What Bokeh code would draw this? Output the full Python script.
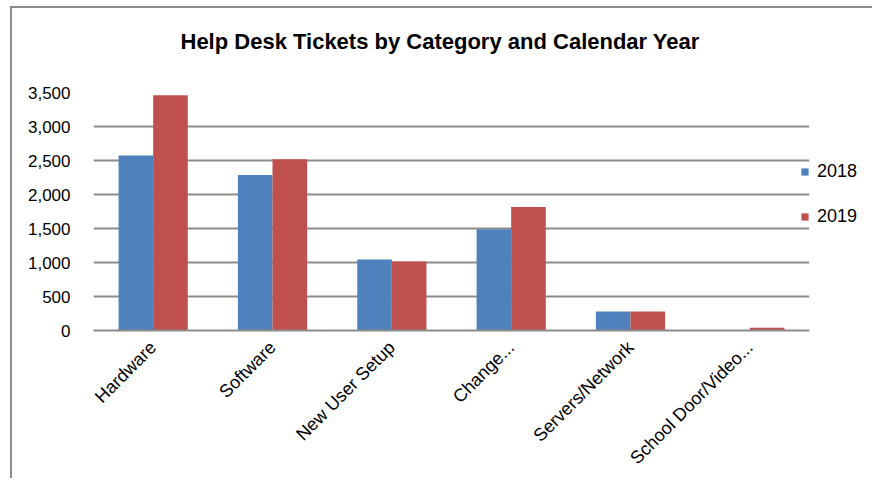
from bokeh.plotting import figure
from bokeh.models import ColumnDataSource, Range1d, NumeralTickFormatter, Legend, LegendItem, FixedTicker, Title
from bokeh.transform import dodge
from bokeh.embed import file_html
from bokeh.resources import INLINE
import math

categories = ["Hardware", "Software", "New User Setup", "Change...", "Servers/Network", "School Door/Video..."]
tickets_2018 = [2575, 2285, 1045, 1490, 280, 0]
tickets_2019 = [3460, 2520, 1015, 1815, 280, 40]
series_names = ["2018", "2019"]
y_ticks = [0, 500, 1000, 1500, 2000, 2500, 3000, 3500]
title_text = "Help Desk Tickets by Category and Calendar Year"

FONT = "Liberation Sans"
BLUE = "#4F81BD"
RED = "#C0504D"
GRID = "#8c8c8c"

source = ColumnDataSource(dict(cat=categories, y2018=tickets_2018, y2019=tickets_2019))

p = figure(x_range=categories, y_range=Range1d(0, 3500), width=857, height=470,
           frame_width=716, frame_height=238,
           output_backend="svg", toolbar_location=None, title=None)
p.min_border_left = 81
p.min_border_right = 60
p.min_border_top = 84
p.min_border_bottom = 148
p.styles = {"border-top": "2px solid #8c8c8c", "border-left": "2px solid #8c8c8c",
            "border-right": "2px solid #8c8c8c", "margin-top": "6px", "margin-left": "10px"}

spacer = Title(text=" ", text_font_size="1px", standoff=36)
p.add_layout(spacer, "above")
main_title = Title(text=title_text, text_font=FONT, text_font_size="22px", text_font_style="bold",
                   text_color="black", align="left", offset=87, standoff=0)
p.add_layout(main_title, "above")

r1 = p.vbar(x=dodge("cat", -0.145, range=p.x_range), top="y2018", width=0.29, source=source,
            fill_color=BLUE, line_color=None)
r2 = p.vbar(x=dodge("cat", 0.145, range=p.x_range), top="y2019", width=0.29, source=source,
            fill_color=RED, line_color=None)

p.xgrid.grid_line_color = None
p.ygrid.grid_line_color = GRID
p.ygrid.grid_line_width = 2
p.ygrid.ticker = FixedTicker(ticks=y_ticks)
p.outline_line_color = None

p.yaxis.ticker = FixedTicker(ticks=y_ticks)
p.yaxis.formatter = NumeralTickFormatter(format="0,0")
p.yaxis.axis_line_color = None
p.yaxis.major_tick_line_color = None
p.yaxis.minor_tick_line_color = None
p.yaxis.major_label_standoff = 17
p.yaxis.major_label_text_font = FONT
p.yaxis.major_label_text_font_size = "17px"
p.yaxis.major_label_text_color = "black"

p.xaxis.axis_line_color = GRID
p.xaxis.axis_line_width = 2
p.xaxis.major_tick_line_color = None
p.xaxis.minor_tick_line_color = None
p.xaxis.major_label_orientation = math.pi / 4
p.xaxis.major_label_standoff = 8
p.xaxis.major_label_text_font = FONT
p.xaxis.major_label_text_font_size = "18px"
p.xaxis.major_label_text_color = "black"

legend = Legend(items=[LegendItem(label=series_names[0], renderers=[r1]),
                       LegendItem(label=series_names[1], renderers=[r2])],
                location=(-9, 103))
legend.padding = 0
legend.margin = 0
legend.border_line_color = None
legend.background_fill_alpha = 0
legend.glyph_width = 9
legend.glyph_height = 9
legend.label_standoff = 8
legend.label_height = 22
legend.spacing = 23
legend.label_text_font = FONT
legend.label_text_font_size = "18px"
legend.label_text_color = "black"
p.add_layout(legend, "right")

open("out.html", "w").write(file_html(p, INLINE))
